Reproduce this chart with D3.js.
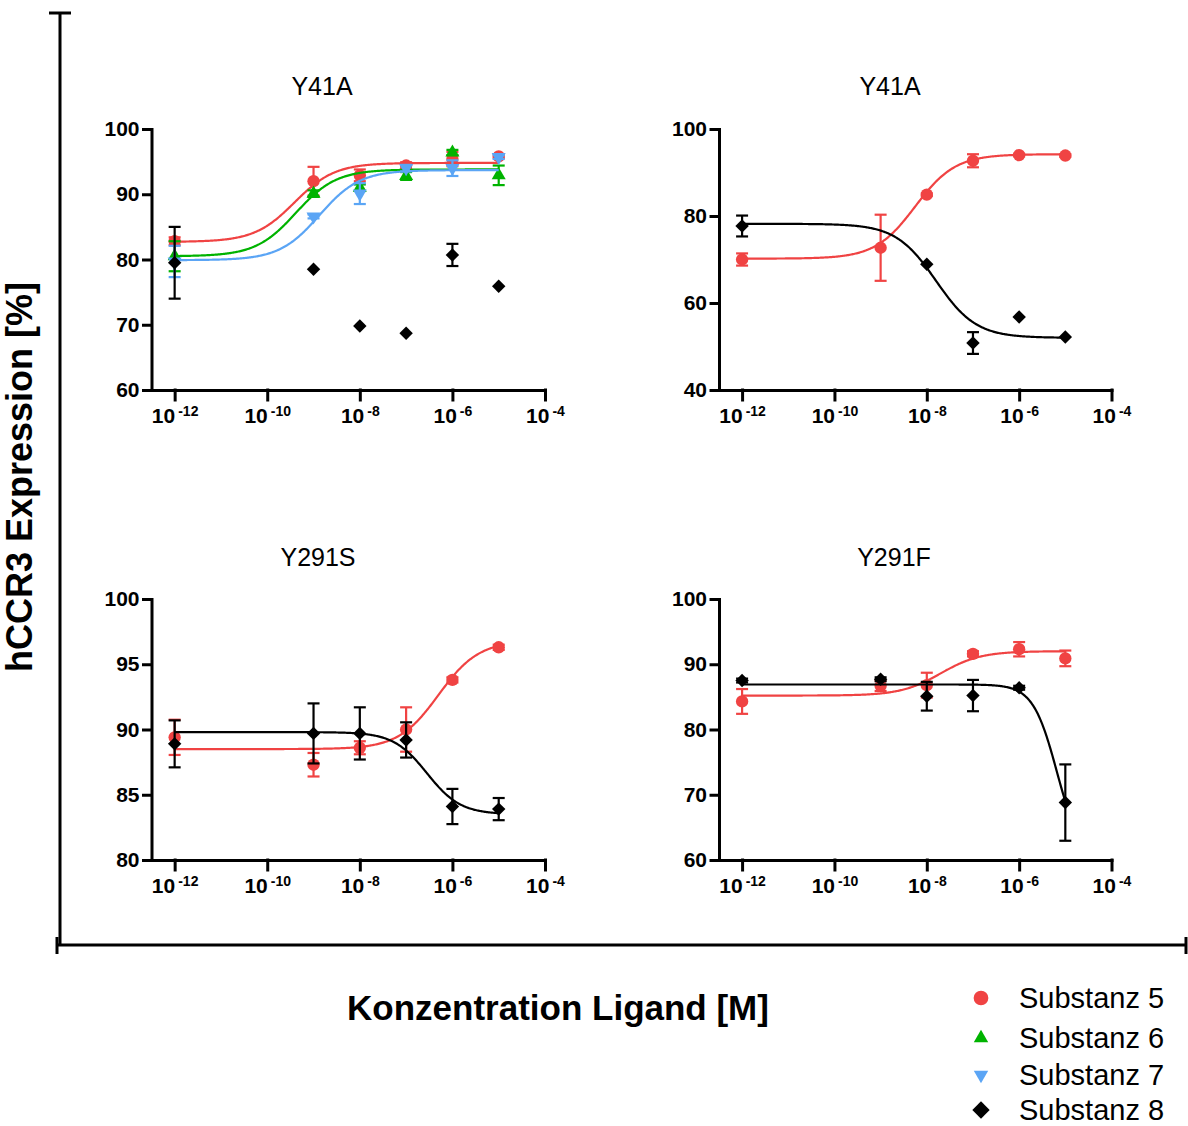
<!DOCTYPE html>
<html>
<head>
<meta charset="utf-8">
<script src="https://cdn.jsdelivr.net/npm/d3@7"></script>
<style>
  body { margin: 0; background: #fff; }
  svg { display: block; font-family: Arial, "Liberation Sans", sans-serif; }
  .axis path, .axis line { stroke: #000; stroke-width: 3; stroke-linecap: square; }
  .axis text { font-size: 21px; font-weight: bold; fill: #000; }
</style>
</head>
<body>
<div id="chart"></div>
<script>
// concentrations (log10 M) used in every panel
var concExp = [-12, -9, -8, -7, -6, -5];
var xTickExp = [-12, -10, -8, -6, -4];

var panelTitles = ['Y41A', 'Y41A', 'Y291S', 'Y291F'];
var yDomains = [[60, 100], [40, 100], [80, 100], [60, 100]];
var yTickValues = [
    [60, 70, 80, 90, 100],
    [40, 60, 80, 100],
    [80, 85, 90, 95, 100],
    [60, 70, 80, 90, 100]
];

var seriesNames = ['Substanz 5', 'Substanz 6', 'Substanz 7', 'Substanz 8'];
var seriesColors = ['#f04343', '#00b300', '#5ba5f5', '#000000'];
var seriesShapes = ['circle', 'up', 'down', 'diamond'];

// panel 1 - Y41A (left)
var p1Mean5 = [82.8, 92.0, 92.9, 94.4, 95.4, 95.8];
var p1Err5  = [0.6, 2.2, 0.9, 0.5, 1.1, 0.3];
var p1Mean6 = [80.5, 90.1, 91.0, 92.8, 96.4, 92.9];
var p1Err6  = [2.3, 0.5, 0.5, 0.6, 0.4, 1.5];
var p1Mean7 = [79.7, 86.6, 90.1, 94.0, 94.0, 95.7];
var p1Err7  = [2.4, 0.3, 1.6, 0.5, 1.2, 0.3];
var p1Mean8 = [79.5, 78.5, 69.8, 68.7, 80.7, 75.9];
var p1Err8  = [5.5, 0, 0, 0, 1.7, 0];
// fit params: [start, end, logEC50, hill]
var p1Fit5 = [82.7, 94.8, -9.41, 1];
var p1Fit6 = [80.5, 93.8, -9.38, 1];
var p1Fit7 = [79.9, 93.7, -8.87, 1];

// panel 2 - Y41A (right)
var p2Mean5 = [70.0, 72.7, 84.9, 92.7, 94.0, 93.9];
var p2Err5  = [1.4, 7.6, 0.3, 1.5, 0.3, 0.3];
var p2Mean8 = [77.7, null, 68.9, 50.8, 56.8, 52.2];
var p2Err8  = [2.4, 0, 0, 2.5, 0, 0];
var p2Fit5 = [70.2, 94.2, -8.25, 1];
var p2Fit8 = [78.2, 52.0, -7.8, 1];

// panel 3 - Y291S
var p3Mean5 = [89.4, 87.3, 88.6, 90.0, 93.8, 96.3];
var p3Err5  = [1.35, 0.9, 0.5, 1.7, 0.2, 0.2];
var p3Mean8 = [88.9, 89.7, 89.7, 89.2, 84.1, 83.9];
var p3Err8  = [1.8, 2.3, 2.0, 1.35, 1.35, 0.85];
var p3Fit5 = [88.5, 96.8, -6.3, 1];
var p3Fit8 = [89.8, 83.5, -6.55, 1.2];

// panel 4 - Y291F
var p4Mean5 = [84.3, 86.7, 86.8, 91.6, 92.3, 90.9];
var p4Err5  = [1.9, 0.8, 1.9, 0.4, 1.1, 1.2];
var p4Mean8 = [87.5, 87.7, 85.1, 85.2, 86.4, 68.8];
var p4Err8  = [0.3, 0.3, 2.2, 2.4, 0.3, 5.85];
var p4Fit5 = [85.2, 92.0, -7.7, 1];
var p4Fit8 = [86.9, 60.0, -5.18, 1.67];

var panelSeries = [
    [
        { s: 0, mean: p1Mean5, err: p1Err5, fit: p1Fit5 },
        { s: 1, mean: p1Mean6, err: p1Err6, fit: p1Fit6 },
        { s: 2, mean: p1Mean7, err: p1Err7, fit: p1Fit7 },
        { s: 3, mean: p1Mean8, err: p1Err8, fit: null }
    ],
    [
        { s: 0, mean: p2Mean5, err: p2Err5, fit: p2Fit5 },
        { s: 3, mean: p2Mean8, err: p2Err8, fit: p2Fit8 }
    ],
    [
        { s: 0, mean: p3Mean5, err: p3Err5, fit: p3Fit5 },
        { s: 3, mean: p3Mean8, err: p3Err8, fit: p3Fit8 }
    ],
    [
        { s: 0, mean: p4Mean5, err: p4Err5, fit: p4Fit5 },
        { s: 3, mean: p4Mean8, err: p4Err8, fit: p4Fit8 }
    ]
];

// layout: left edge of y axis, right edge of x axis, top and bottom of plot
var panelBoxes = [
    { x0: 151.5, x1: 545, y0: 129, y1: 390, tx: 322, ty: 95 },
    { x0: 719, x1: 1111.5, y0: 129, y1: 390, tx: 890, ty: 95 },
    { x0: 151.5, x1: 545, y0: 599, y1: 860, tx: 318, ty: 566 },
    { x0: 719, x1: 1111.5, y0: 599, y1: 860, tx: 894, ty: 566 }
];

var width = 1188,
    height = 1126;

var svg = d3.select('#chart').append('svg')
    .attr('width', width)
    .attr('height', height);

svg.append('rect')
    .attr('width', width)
    .attr('height', height)
    .attr('fill', '#fff');

function symbolPath(shape, size) {
    if (shape === 'circle') return d3.symbol(d3.symbolCircle, size)();
    if (shape === 'diamond') return d3.symbol(d3.symbolSquare, size)();
    return d3.symbol(d3.symbolTriangle, size)();
}

function symbolRotate(shape) {
    if (shape === 'diamond') return 45;
    if (shape === 'down') return 180;
    return 0;
}

var markerSize = { circle: 120, up: 85, down: 85, diamond: 90 };

// four-parameter logistic
function logistic(p, x) {
    return p[1] + (p[0] - p[1]) / (1 + Math.pow(10, (x - p[2]) * p[3]));
}

panelBoxes.forEach(function(box, i) {
    var g = svg.append('g').attr('class', 'panel');

    // x domain starts half a decade before 10^-12
    var x = d3.scaleLinear()
        .domain([-12.5, -4])
        .range([box.x0, box.x1]);

    var y = d3.scaleLinear()
        .domain(yDomains[i])
        .range([box.y1, box.y0]);

    var xAxis = g.append('g')
        .attr('class', 'axis')
        .attr('transform', 'translate(0,' + box.y1 + ')')
        .call(d3.axisBottom(x).tickValues(xTickExp).tickSize(10).tickSizeOuter(0).tickFormat(''));

    xAxis.selectAll('.tick text').remove();
    var lbl = xAxis.selectAll('.tick').append('text')
        .attr('y', 33)
        .attr('x', 0)
        .attr('text-anchor', 'middle');
    lbl.append('tspan').text('10');
    lbl.append('tspan')
        .attr('dx', 3)
        .attr('dy', -7)
        .style('font-size', '14px')
        .text(function(d) { return '-' + Math.abs(d); });

    g.append('g')
        .attr('class', 'axis')
        .attr('transform', 'translate(' + box.x0 + ',0)')
        .call(d3.axisLeft(y).tickValues(yTickValues[i]).tickSize(8).tickPadding(4).tickSizeOuter(0));

    // panel title
    g.append('text')
        .attr('x', box.tx)
        .attr('y', box.ty)
        .attr('text-anchor', 'middle')
        .style('font-size', '25px')
        .text(panelTitles[i]);

    panelSeries[i].forEach(function(ser) {
        var color = seriesColors[ser.s];
        var shape = seriesShapes[ser.s];
        var sg = g.append('g').attr('class', 'series');

        // fitted curve
        if (ser.fit) {
            var xs = d3.range(-12, -4.999, 0.02);
            var curve = d3.line()
                .x(function(d) { return x(d); })
                .y(function(d) { return y(logistic(ser.fit, d)); });
            sg.append('path')
                .attr('d', curve(xs))
                .attr('fill', 'none')
                .attr('stroke', color)
                .attr('stroke-width', 2.2);
        }

        var pts = concExp.map(function(c, k) {
            return { c: c, m: ser.mean[k], e: ser.err[k] };
        }).filter(function(d) { return d.m !== null; });

        // error bars
        var eb = sg.selectAll('.err')
            .data(pts.filter(function(d) { return d.e > 0; }))
            .enter().append('g')
            .attr('stroke', color)
            .attr('stroke-width', 2.2);
        eb.append('line')
            .attr('x1', function(d) { return x(d.c); })
            .attr('x2', function(d) { return x(d.c); })
            .attr('y1', function(d) { return y(d.m - d.e); })
            .attr('y2', function(d) { return y(d.m + d.e); });
        eb.append('line')
            .attr('x1', function(d) { return x(d.c) - 6; })
            .attr('x2', function(d) { return x(d.c) + 6; })
            .attr('y1', function(d) { return y(d.m + d.e); })
            .attr('y2', function(d) { return y(d.m + d.e); });
        eb.append('line')
            .attr('x1', function(d) { return x(d.c) - 6; })
            .attr('x2', function(d) { return x(d.c) + 6; })
            .attr('y1', function(d) { return y(d.m - d.e); })
            .attr('y2', function(d) { return y(d.m - d.e); });

        // markers
        sg.selectAll('.pt')
            .data(pts)
            .enter().append('path')
            .attr('d', symbolPath(shape, markerSize[shape]))
            .attr('transform', function(d) {
                return 'translate(' + x(d.c) + ',' + y(d.m) + ') rotate(' + symbolRotate(shape) + ')';
            })
            .attr('fill', color);
    });
});

// outer frame axes
var frame = svg.append('g')
    .attr('stroke', '#000')
    .attr('stroke-width', 3);
frame.append('line').attr('x1', 60).attr('x2', 60).attr('y1', 13).attr('y2', 945);
frame.append('line').attr('x1', 49).attr('x2', 71).attr('y1', 13).attr('y2', 13);
frame.append('line').attr('x1', 56).attr('x2', 1187).attr('y1', 945).attr('y2', 945);
frame.append('line').attr('x1', 57).attr('x2', 57).attr('y1', 937).attr('y2', 954);
frame.append('line').attr('x1', 1186).attr('x2', 1186).attr('y1', 937).attr('y2', 954);

// axis titles
svg.append('text')
    .attr('transform', 'translate(32,477) rotate(-90)')
    .attr('text-anchor', 'middle')
    .style('font-size', '36px')
    .style('font-weight', 'bold')
    .text('hCCR3 Expression [%]');

svg.append('text')
    .attr('x', 558)
    .attr('y', 1020)
    .attr('text-anchor', 'middle')
    .style('font-size', '35px')
    .style('font-weight', 'bold')
    .text('Konzentration Ligand [M]');

// legend
var legendY = [998, 1038, 1075, 1110];
var legendSize = { circle: 170, up: 90, down: 90, diamond: 150 };
var legend = svg.append('g').attr('class', 'legend')
    .selectAll('g')
    .data(seriesNames)
    .enter().append('g')
    .attr('transform', function(d, i) { return 'translate(981,' + legendY[i] + ')'; });

legend.append('path')
    .attr('d', function(d, i) { return symbolPath(seriesShapes[i], legendSize[seriesShapes[i]]); })
    .attr('transform', function(d, i) { return 'rotate(' + symbolRotate(seriesShapes[i]) + ')'; })
    .attr('fill', function(d, i) { return seriesColors[i]; });

legend.append('text')
    .attr('x', 38)
    .attr('y', 10)
    .style('font-size', '29px')
    .text(function(d) { return d; });
</script>
</body>
</html>
